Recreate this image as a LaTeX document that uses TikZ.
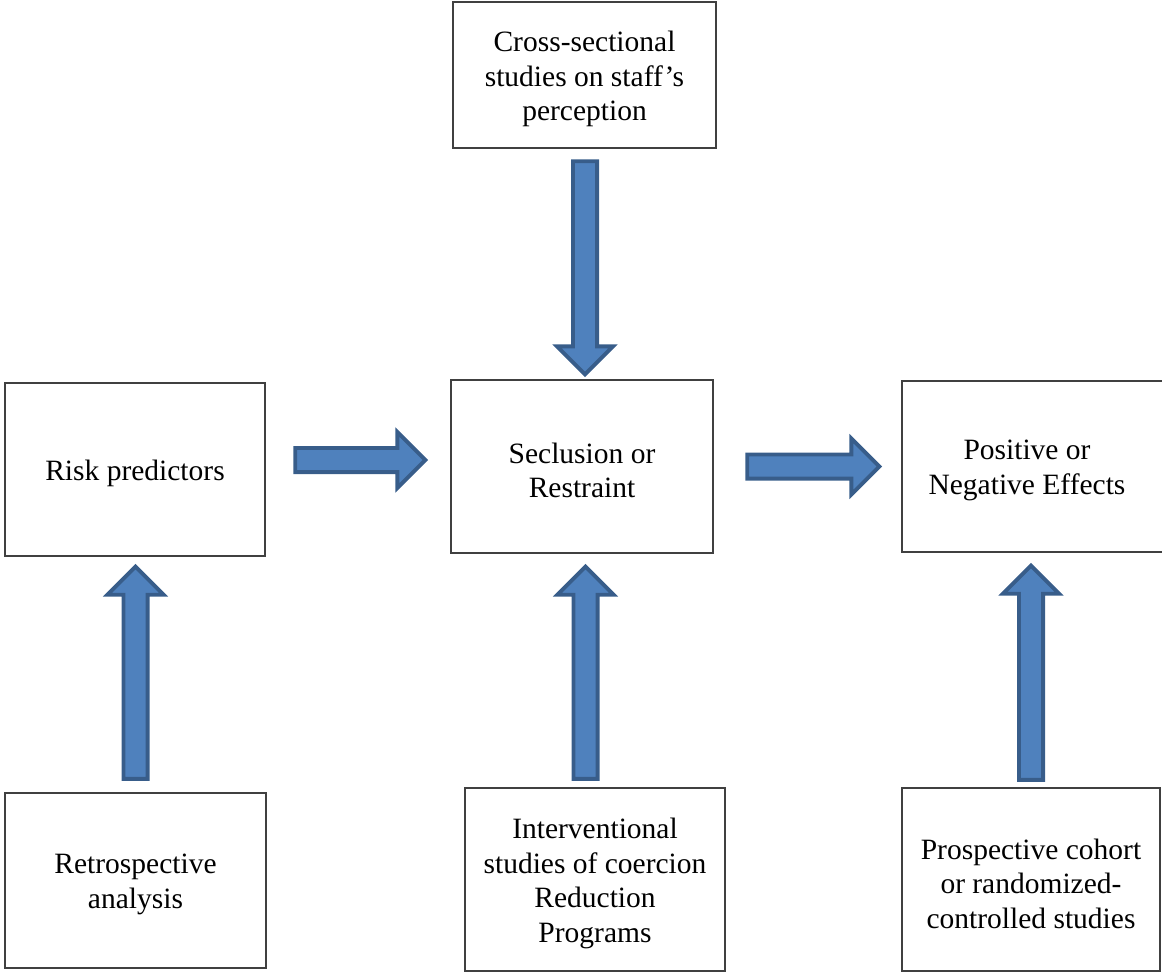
\documentclass[tikz,border=0pt]{standalone}
\usepackage{fontspec}
\setmainfont{Liberation Serif}
\usetikzlibrary{calc}
\definecolor{arrowfill}{HTML}{4F81BD}
\definecolor{arrowline}{HTML}{385D8A}
\definecolor{boxline}{HTML}{404040}
\tikzset{
  box/.style={draw=boxline, line width=1.3pt, inner sep=0pt},
  boxtext/.style={inner sep=0pt, align=center, yshift=-4pt,
    font=\fontsize{29.5}{34.5}\selectfont},
  blockarrow/.style={draw=arrowline, fill=arrowfill, line width=3.8pt, line join=miter}
}
\newcommand{\blockarrow}[2]{%
  \draw[blockarrow] let \p1=(#1), \p2=(#2),
    \n1={veclen(\x2-\x1,\y2-\y1)}, \n2={(\x2-\x1)/\n1}, \n3={(\y2-\y1)/\n1} in
    ({\x1 + 12.1*\n3}, {\y1 - 12.1*\n2})
    -- ({\x1 + (\n1-28)*\n2 + 12.1*\n3}, {\y1 + (\n1-28)*\n3 - 12.1*\n2})
    -- ({\x1 + (\n1-28)*\n2 + 28*\n3}, {\y1 + (\n1-28)*\n3 - 28*\n2})
    -- (\p2)
    -- ({\x1 + (\n1-28)*\n2 - 28*\n3}, {\y1 + (\n1-28)*\n3 + 28*\n2})
    -- ({\x1 + (\n1-28)*\n2 - 12.1*\n3}, {\y1 + (\n1-28)*\n3 + 12.1*\n2})
    -- ({\x1 - 12.1*\n3}, {\y1 + 12.1*\n2})
    -- cycle;
}
\begin{document}
\begin{tikzpicture}[x=1pt, y=-1pt]
\useasboundingbox (0,0) rectangle (1162,974);
% boxes
\node[box, minimum width=263pt, minimum height=146pt,
  label={[boxtext]center:{Cross-sectional\\studies on staff’s\\perception}}] (top) at (584.5,75) {};
\node[box, minimum width=260pt, minimum height=173pt,
  label={[boxtext]center:{Risk predictors}}] (risk) at (135,469.5) {};
\node[box, minimum width=262pt, minimum height=173pt,
  label={[boxtext]center:{Seclusion or\\Restraint}}] (sec) at (582,466.5) {};
\node[box, minimum width=263pt, minimum height=171pt,
  label={[boxtext, xshift=-6.5pt]center:{Positive or\\Negative Effects}}] (pos) at (1033.5,466.5) {};
\node[box, minimum width=261pt, minimum height=175pt,
  label={[boxtext]center:{Retrospective\\analysis}}] (retro) at (135.5,880.5) {};
\node[box, minimum width=260pt, minimum height=183pt,
  label={[boxtext]center:{Interventional\\studies of coercion\\Reduction\\Programs}}] (interv) at (595,879.5) {};
\node[box, minimum width=258pt, minimum height=183pt,
  label={[boxtext]center:{Prospective cohort\\or randomized-\\controlled studies}}] (prosp) at (1031,879.5) {};
% arrow end points
\coordinate (dTail) at ($(top.south)+(0.5,12.5)$);
\coordinate (dTip) at ($(sec.north)+(3,-5)$);
\coordinate (r1Tail) at ($(risk.east)+(29.5,-9.5)$);
\coordinate (r1Tip) at ($(sec.west)+(-25,-6.5)$);
\coordinate (r2Tail) at ($(sec.east)+(33.5,0)$);
\coordinate (r2Tip) at ($(pos.west)+(-22,0)$);
\coordinate (u1Tail) at ($(retro.north)+(0,-13.5)$);
\coordinate (u1Tip) at ($(risk.south)+(0.5,10)$);
\coordinate (u2Tail) at ($(interv.north)+(-9.5,-8.5)$);
\coordinate (u2Tip) at ($(sec.south)+(3.5,13)$);
\coordinate (u3Tail) at ($(prosp.north)+(0,-7.5)$);
\coordinate (u3Tip) at ($(pos.south)+(-2.5,13)$);
% block arrows
\blockarrow{dTail}{dTip}
\blockarrow{r1Tail}{r1Tip}
\blockarrow{r2Tail}{r2Tip}
\blockarrow{u1Tail}{u1Tip}
\blockarrow{u2Tail}{u2Tip}
\blockarrow{u3Tail}{u3Tip}
\end{tikzpicture}
\end{document}
